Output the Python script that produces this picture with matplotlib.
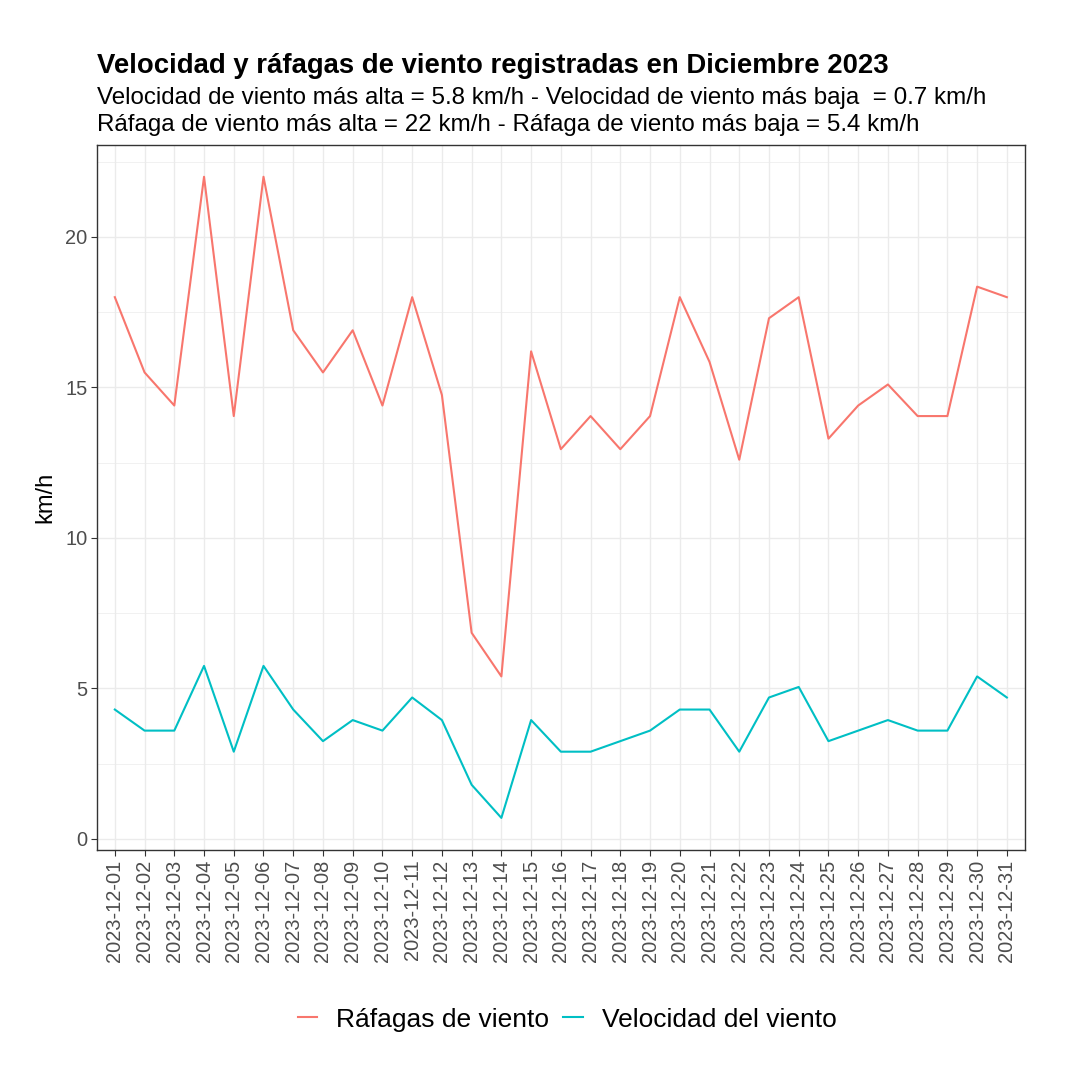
import matplotlib
matplotlib.use("Agg")
import matplotlib.pyplot as plt
from matplotlib.lines import Line2D

plt.rcParams["font.family"] = ["Liberation Sans", "DejaVu Sans"]

fechas = [f"2023-12-{d:02d}" for d in range(1, 32)]

rafagas = [18.0, 15.5, 14.4, 22.0, 14.05, 22.0, 16.9, 15.5, 16.9, 14.4,
           18.0, 14.75, 6.85, 5.4, 16.2, 12.95, 14.05, 12.95, 14.05, 18.0,
           15.85, 12.6, 17.3, 18.0, 13.3, 14.4, 15.1, 14.05, 14.05, 18.35,
           18.0]

velocidad = [4.3, 3.6, 3.6, 5.75, 2.9, 5.75, 4.3, 3.25, 3.95, 3.6,
             4.7, 3.95, 1.8, 0.7, 3.95, 2.9, 2.9, 3.25, 3.6, 4.3,
             4.3, 2.9, 4.7, 5.05, 3.25, 3.6, 3.95, 3.6, 3.6, 5.4,
             4.7]

series = ["Ráfagas de viento", "Velocidad del viento"]
colores = ["#F8766D", "#00BFC4"]

fig = plt.figure(figsize=(10.8, 10.8), dpi=100)
ax = fig.add_axes([0.0898, 0.213, 0.859, 0.653])

x = list(range(len(fechas)))
ax.plot(x, rafagas, color=colores[0], lw=1.5)
ax.plot(x, velocidad, color=colores[1], lw=1.5)

ymin = min(velocidad)
ymax = max(rafagas)
pad = (ymax - ymin) * 0.05
ax.set_ylim(ymin - pad, ymax + pad)
ax.set_xlim(-0.6, len(fechas) - 0.4)

ax.set_xticks(x)
ax.set_xticklabels(fechas, rotation=90)
ax.set_yticks([0, 5, 10, 15, 20])
ax.set_yticks([2.5, 7.5, 12.5, 17.5, 22.5], minor=True)
ax.tick_params(axis="both", which="major", labelsize=14.4, colors="#333333",
               length=4, width=0.8, labelcolor="#4D4D4D", pad=3)
ax.tick_params(axis="y", which="minor", length=0)
ax.grid(True, which="major", color="#EBEBEB", lw=1.0)
ax.grid(True, which="minor", axis="y", color="#EBEBEB", lw=0.5)
ax.set_axisbelow(True)
for s in ax.spines.values():
    s.set_color("#333333")
    s.set_linewidth(1.0)

ax.set_ylabel("km/h", fontsize=17, labelpad=6)

fig.text(0.0898, 0.939, "Velocidad y ráfagas de viento registradas en Diciembre 2023",
         fontsize=19.8, fontweight="bold", ha="left", va="center")
fig.text(0.0898, 0.909,
         "Velocidad de viento más alta = 5.8 km/h - Velocidad de viento más baja  = 0.7 km/h",
         fontsize=17.4, ha="left", va="center")
fig.text(0.0898, 0.884,
         "Ráfaga de viento más alta = 22 km/h - Ráfaga de viento más baja = 5.4 km/h",
         fontsize=17.4, ha="left", va="center")

handles = [Line2D([0], [0], color=c, lw=1.5) for c in colores]
fig.legend(handles, series, loc="center", bbox_to_anchor=(0.525, 0.056), ncol=2,
           frameon=False, fontsize=19, handlelength=0.75, handletextpad=0.7,
           columnspacing=0.55)

fig.savefig("out.png", dpi=100)
